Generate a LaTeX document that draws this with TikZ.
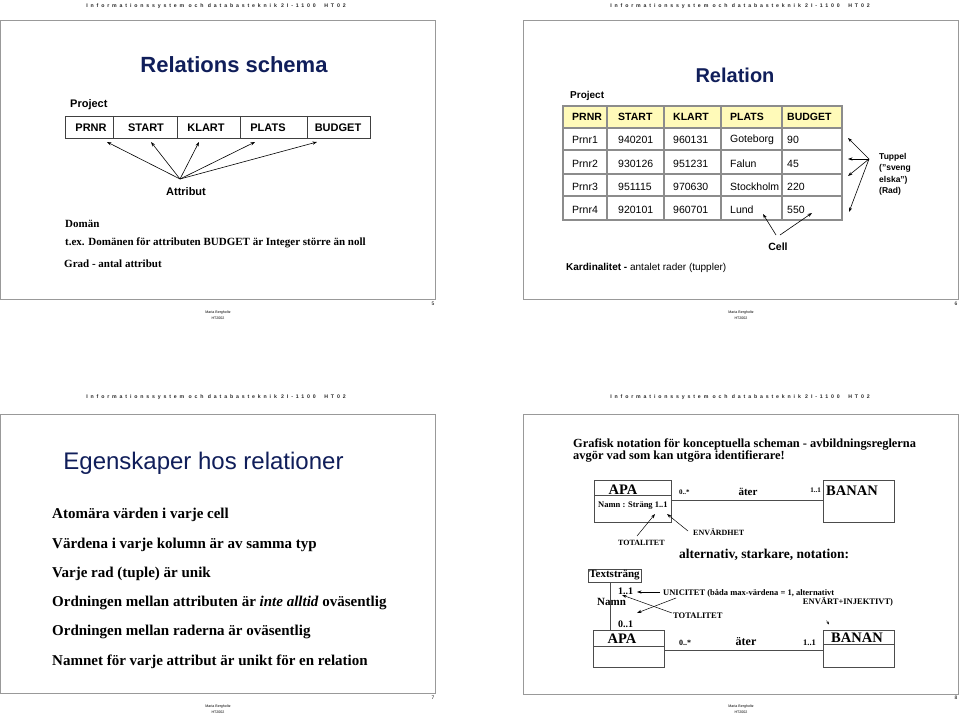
\documentclass[tikz,border=0pt]{standalone}
\usepackage{fontspec}
\setmainfont{Liberation Serif}
\newfontfamily\arial{Liberation Sans}
\newfontfamily\hdrfont[LetterSpace=55]{Liberation Sans}
\usetikzlibrary{arrows.meta}
\definecolor{titleblue}{RGB}{16,30,90}
\definecolor{hdryellow}{RGB}{255,250,185}
\begin{document}
\begin{tikzpicture}[x=1pt,y=-1pt,
  frame/.style={draw=black!40, line width=0.9pt},
  hdr/.style={inner sep=0, font=\hdrfont\bfseries\fontsize{5.2}{6}\selectfont, text=black!85},
  foot/.style={inner sep=0, align=center, font=\arial\fontsize{3.6}{5.6}\selectfont},
  num/.style={inner sep=0, font=\arial\fontsize{5}{6}\selectfont},
  ttl/.style={inner sep=0, font=\arial\bfseries\fontsize{22}{26}\selectfont, text=titleblue},
  sbw/.style={inner sep=0, anchor=west, font=\arial\bfseries\fontsize{11}{13}\selectfont},
  sbc/.style={inner sep=0, font=\arial\bfseries\fontsize{11}{13}\selectfont},
  cellb/.style={inner sep=0, anchor=west, font=\arial\bfseries\fontsize{10.5}{12}\selectfont},
  cellr/.style={inner sep=0, anchor=west, font=\arial\fontsize{10.5}{12}\selectfont},
  tb/.style={inner sep=0, anchor=west, font=\bfseries\fontsize{11}{13}\selectfont},
  bul/.style={inner sep=0, anchor=west, font=\bfseries\fontsize{15}{17}\selectfont},
  umlsmall/.style={inner sep=0, font=\bfseries\fontsize{8.5}{10}\selectfont},
  umlbig/.style={inner sep=0, font=\bfseries\fontsize{14.5}{16}\selectfont},
  arr/.style={-{Stealth[length=4.5pt,width=3.2pt]}, line width=0.6pt},
  tbl/.style={draw=black!75, line width=0.7pt},
  tbl2/.style={draw=black!45, line width=1.3pt},
  box/.style={draw=black!70, line width=0.6pt}
]
\useasboundingbox (0,0) rectangle (959,714);
\fill[white] (0,0) rectangle (959,714);

% ---------- slide frames ----------
\draw[frame] (0.5,20) rectangle (435,299);
\draw[frame] (523,20) rectangle (958.5,299);
\draw[frame] (0.5,414) rectangle (435,693);
\draw[frame] (523,414) rectangle (958.5,694);

% ---------- headers / footers ----------
\node[hdr] (h1) at (216,6) {Informationssystem och databasteknik 2I-1100\ \ HT02};
\node[hdr] (h2) at (740,6) {Informationssystem och databasteknik 2I-1100\ \ HT02};
\node[hdr] (h3) at (216,397) {Informationssystem och databasteknik 2I-1100\ \ HT02};
\node[hdr] (h4) at (740,397) {Informationssystem och databasteknik 2I-1100\ \ HT02};
\node[foot] (f1) at (218,315) {Maria Bergholtz\\HT2002};
\node[foot] (f2) at (741,315) {Maria Bergholtz\\HT2002};
\node[foot] (f3) at (218,709) {Maria Bergholtz\\HT2002};
\node[foot] (f4) at (741,709) {Maria Bergholtz\\HT2002};
\node[num] (n5) at (433,304) {5};
\node[num] (n6) at (956,304) {6};
\node[num] (n7) at (433,698) {7};
\node[num] (n8) at (956,698) {8};

% ---------- slide 5: Relations schema ----------
\node[ttl] (t1) at (234,65) {Relations schema};
\node[sbw] (proj1) at (70,105) {Project};
\draw[tbl] (65,116) rectangle (370,138);
\draw[tbl] (113,116) -- (113,138);
\draw[tbl] (177,116) -- (177,138);
\draw[tbl] (240,116) -- (240,138);
\draw[tbl] (307,116) -- (307,138);
\node[sbc] (s1c1) at (91,127.5) {PRNR};
\node[sbc] (s1c2) at (146,127.5) {START};
\node[sbc] (s1c3) at (206,127.5) {KLART};
\node[sbc] (s1c4) at (268,127.5) {PLATS};
\node[sbc] (s1c5) at (338,127.5) {BUDGET};
\coordinate (attr) at (180,179);
\coordinate (ta1) at (107,142);
\coordinate (ta2) at (151,142);
\coordinate (ta3) at (199,142);
\coordinate (ta4) at (255,142);
\coordinate (ta5) at (317,142);
\foreach \t in {ta1,ta2,ta3,ta4,ta5} \draw[arr] (attr) -- (\t);
\node[sbc] (attrib) at (186,192) {Attribut};
\node[tb] (dom) at (65,224) {Domän};
\node[tb] (tex) at (65,243) {t.ex. Domänen för attributen BUDGET är Integer större än noll};
\node[tb] (grad) at (64,264) {Grad - antal attribut};

% ---------- slide 6: Relation ----------
\node[ttl, font=\arial\bfseries\fontsize{20}{24}\selectfont] (t2) at (735,75) {Relation};
\node[sbw, font=\arial\bfseries\fontsize{10}{12}\selectfont] (proj2) at (570,96) {Project};
\fill[hdryellow] (563,106) rectangle (842,128);
\draw[tbl2] (563,106) rectangle (842,220);
\foreach \yy in {128,150,174,196} \draw[tbl2] (563,\yy) -- (842,\yy);
\foreach \xx in {607,664,721,782} \draw[tbl2] (\xx,106) -- (\xx,220);
\node[cellb] (hc1) at (572,117) {PRNR};
\node[cellb] (hc2) at (618,117) {START};
\node[cellb] (hc3) at (673,117) {KLART};
\node[cellb] (hc4) at (730,117) {PLATS};
\node[cellb] (hc5) at (787,117) {BUDGET};
\node[cellr] (r1a) at (572,140) {Prnr1};
\node[cellr] (r1b) at (618,140) {940201};
\node[cellr] (r1c) at (673,140) {960131};
\node[cellr] (r1d) at (730,140) {Goteborg};
\node[cellr] (r1e) at (787,140) {90};
\node[cellr] (r2a) at (572,164) {Prnr2};
\node[cellr] (r2b) at (618,164) {930126};
\node[cellr] (r2c) at (673,164) {951231};
\node[cellr] (r2d) at (730,164) {Falun};
\node[cellr] (r2e) at (787,164) {45};
\node[cellr] (r3a) at (572,187) {Prnr3};
\node[cellr] (r3b) at (618,187) {951115};
\node[cellr] (r3c) at (673,187) {970630};
\node[cellr] (r3d) at (730,187) {Stockholm};
\node[cellr] (r3e) at (787,187) {220};
\node[cellr] (r4a) at (572,210) {Prnr4};
\node[cellr] (r4b) at (618,210) {920101};
\node[cellr] (r4c) at (673,210) {960701};
\node[cellr] (r4d) at (730,210) {Lund};
\node[cellr] (r4e) at (787,210) {550};
\coordinate (tup) at (869,159);
\coordinate (tt1) at (848,138);
\coordinate (tt2) at (848,159);
\coordinate (tt3) at (848,176);
\coordinate (tt4) at (849,212);
\foreach \t in {tt1,tt2,tt3,tt4} \draw[arr] (tup) -- (\t);
\node[inner sep=0, anchor=west, align=left, font=\arial\bfseries\fontsize{8.5}{11.5}\selectfont] (tuppel) at (879,174.5) {Tuppel\\(”sveng\\elska”)\\(Rad)};
\coordinate (cella) at (776,235);
\coordinate (cellb) at (780,235);
\coordinate (tc1) at (763,214);
\coordinate (tc2) at (812,213);
\draw[arr] (cella) -- (tc1);
\draw[arr] (cellb) -- (tc2);
\node[sbc, font=\arial\bfseries\fontsize{10.5}{12}\selectfont] (cell) at (778,247) {Cell};
\node[inner sep=0, anchor=west, font=\arial\fontsize{10}{12}\selectfont] (kard) at (566,268) {\textbf{Kardinalitet -} antalet rader (tuppler)};

% ---------- slide 7: Egenskaper ----------
\node[inner sep=0, font=\arial\fontsize{24}{28}\selectfont, text=titleblue] (t3) at (203.5,463) {Egenskaper hos relationer};
\node[bul] (b1) at (52,515) {Atomära värden i varje cell};
\node[bul] (b2) at (52,545) {Värdena i varje kolumn är av samma typ};
\node[bul] (b3) at (52,574) {Varje rad (tuple) är unik};
\node[bul] (b4) at (52,603) {Ordningen mellan attributen är \textit{inte alltid} oväsentlig};
\node[bul] (b5) at (52,632) {Ordningen mellan raderna är oväsentlig};
\node[bul] (b6) at (52,662) {Namnet för varje attribut är unikt för en relation};

% ---------- slide 8: Grafisk notation ----------
\node[inner sep=0, anchor=north west, align=left, font=\bfseries\fontsize{12.4}{12.5}\selectfont] (gtext) at (573,438.5) {Grafisk notation för konceptuella scheman - avbildningsreglerna\\avgör vad som kan utgöra identifierare!};
% upper diagram
\node[box, inner sep=0, minimum width=77, minimum height=42, anchor=north west] (apa1) at (594,480) {};
\draw[box] ([yshift=-15pt]apa1.north west) -- ([yshift=-15pt]apa1.north east);
\node[umlbig] (apa1t) at (623,490) {APA};
\node[umlsmall, anchor=west] (namn1) at (598,506) {Namn : Sträng 1..1};
\node[box, inner sep=0, minimum width=71, minimum height=42, anchor=north west] (banan1) at (823,480) {};
\node[umlbig] (banan1t) at (852,491) {BANAN};
\coordinate (a1r) at (671,500);
\coordinate (b1l) at (823,500);
\draw[box] (a1r) -- (b1l);
\node[umlsmall, font=\bfseries\fontsize{7}{8}\selectfont, anchor=west] (m1a) at (679,492) {0..*};
\node[umlsmall, font=\bfseries\fontsize{11}{12}\selectfont] (ater1) at (748,492) {äter};
\node[umlsmall, font=\bfseries\fontsize{7}{8}\selectfont, anchor=east] (m1b) at (821,490) {1..1};
\coordinate (tot1s) at (637,536);
\coordinate (tot1e) at (655,514);
\coordinate (env1s) at (688,531);
\coordinate (env1e) at (667,514);
\draw[arr, line width=0.5pt] (tot1s) -- (tot1e);
\draw[arr, line width=0.5pt] (env1s) -- (env1e);
\node[umlsmall, font=\bfseries\fontsize{8}{9}\selectfont, anchor=west] (tot1) at (618,543) {TOTALITET};
\node[umlsmall, font=\bfseries\fontsize{8}{9}\selectfont, anchor=west] (env1) at (693,532) {ENVÄRDHET};
\node[inner sep=0, anchor=west, font=\bfseries\fontsize{13.5}{15}\selectfont] (alt) at (679,555) {alternativ, starkare, notation:};
% lower diagram
\node[box, inner sep=1.5pt, font=\bfseries\fontsize{11}{12}\selectfont] (txt) at (614.5,575.5) {Textsträng};
\node[box, inner sep=0, minimum width=71, minimum height=37, anchor=north west] (apa2) at (593,630) {};
\draw[box] ([yshift=-16pt]apa2.north west) -- ([yshift=-16pt]apa2.north east);
\node[umlbig] (apa2t) at (622,639) {APA};
\node[box, inner sep=0, minimum width=71, minimum height=37, anchor=north west] (banan2) at (823,630) {};
\draw[box] ([yshift=-14pt]banan2.north west) -- ([yshift=-14pt]banan2.north east);
\node[umlbig] (banan2t) at (857,638) {BANAN};
\draw[box] (txt.south -| 610,0) -- (apa2.north -| 610,0);
\coordinate (a2r) at (664,650);
\coordinate (b2l) at (823,650);
\draw[box] (a2r) -- (b2l);
\node[umlsmall, font=\bfseries\fontsize{8}{9}\selectfont, anchor=west] (m2a) at (679,643) {0..*};
\node[umlsmall, font=\bfseries\fontsize{12}{13}\selectfont] (ater2) at (746,642) {äter};
\node[umlsmall, font=\bfseries\fontsize{8.5}{9}\selectfont, anchor=west] (m2b) at (803,643) {1..1};
\node[umlsmall, font=\bfseries\fontsize{10}{11}\selectfont, anchor=west] (one1) at (618,591) {1..1};
\node[umlsmall, font=\bfseries\fontsize{11}{12}\selectfont, anchor=west] (namn2) at (597,602) {Namn};
\node[umlsmall, font=\bfseries\fontsize{10}{11}\selectfont, anchor=west] (zero1) at (618,624) {0..1};
\node[umlsmall, anchor=west] (unic) at (663,593) {UNICITET (båda max-värdena = 1, alternativt};
\node[umlsmall] (envinj) at (848,602) {ENVÄRT+INJEKTIVT)};
\node[umlsmall, anchor=west] (tot2) at (673,616) {TOTALITET};
\coordinate (u1s) at (660,592);
\coordinate (u1e) at (637,592);
\coordinate (u2s) at (676,598);
\coordinate (u2e) at (637,613);
\coordinate (t2s) at (672,613);
\coordinate (t2e) at (622,595);
\draw[arr, line width=0.5pt] (u1s) -- (u1e);
\draw[arr, line width=0.5pt] (u2s) -- (u2e);
\draw[arr, line width=0.5pt] (t2s) -- (t2e);
\coordinate (stray1) at (826.5,620.5);
\coordinate (stray2) at (829,624.5);
\draw[-{Stealth[length=3pt,width=2.2pt]}, line width=0.4pt] (stray1) -- (stray2);
\end{tikzpicture}
\end{document}
